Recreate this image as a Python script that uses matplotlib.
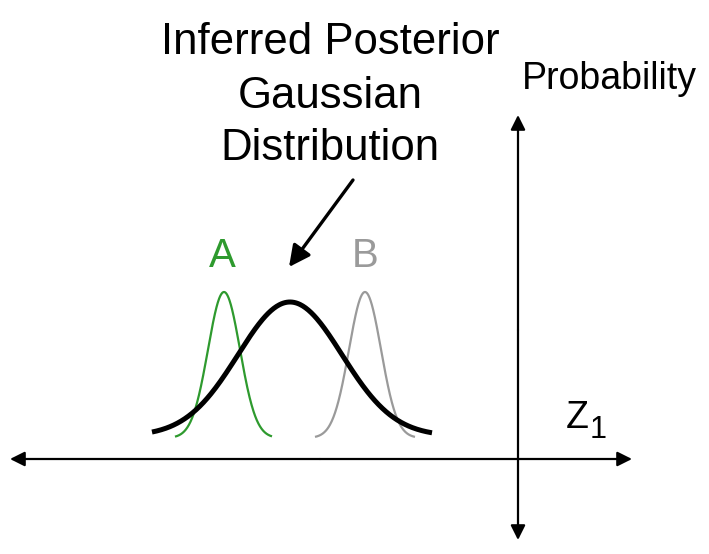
import numpy as np
import matplotlib
matplotlib.use("Agg")
import matplotlib.pyplot as plt

# Curve parameters (in diagram units: x to the right, y downward like the picture)
curve_names = ["A", "B", "Posterior"]
curve_means = [224, 365, 290]
curve_sigmas = [16, 16, 52]
curve_heights = [146, 146, 134]
curve_baselines = [438, 438, 436]
curve_ranges = [(175, 272), (315, 415), (152, 432)]
curve_colors = ["#2e9a2e", "#9a9a9a", "#000000"]
curve_widths = [1.6, 1.6, 3.6]

W, H = 709, 554
fig = plt.figure(figsize=(W / 100, H / 100), dpi=100)
ax = fig.add_axes([0, 0, 1, 1])
ax.set_xlim(0, W)
ax.set_ylim(H, 0)
ax.axis("off")

for m, s, h, b, (x0, x1), c, lw in zip(curve_means, curve_sigmas, curve_heights,
                                         curve_baselines, curve_ranges, curve_colors, curve_widths):
    x = np.linspace(x0, x1, 300)
    y = b - h * np.exp(-0.5 * ((x - m) / s) ** 2)
    ax.plot(x, y, color=c, lw=lw, solid_capstyle="butt")

ap = dict(arrowstyle="-|>", color="black", lw=1.6, mutation_scale=22, shrinkA=0, shrinkB=0)
# horizontal axis (double arrow)
ax.annotate("", xy=(632, 459), xytext=(320, 459), arrowprops=ap)
ax.annotate("", xy=(10, 459), xytext=(320, 459), arrowprops=ap)
# vertical axis
ax.annotate("", xy=(518, 115), xytext=(518, 330), arrowprops=ap)
ax.annotate("", xy=(518, 540), xytext=(518, 330), arrowprops=ap)
# pointer arrow
ax.annotate("", xy=(289, 267), xytext=(353, 180),
            arrowprops=dict(arrowstyle="-|>", color="black", lw=2.4, mutation_scale=32,
                            shrinkA=0, shrinkB=0))

font = "Liberation Sans"
ax.text(330, 42, "Inferred Posterior", ha="center", va="center", fontsize=31.5, family=font)
ax.text(330, 96, "Gaussian", ha="center", va="center", fontsize=31.5, family=font)
ax.text(330, 148, "Distribution", ha="center", va="center", fontsize=31.5, family=font)
ax.text(609, 79, "Probability", ha="center", va="center", fontsize=27, family=font)
ax.text(222, 256, "A", ha="center", va="center", fontsize=29, family=font, color="#2e9a2e")
ax.text(365, 256, "B", ha="center", va="center", fontsize=29, family=font, color="#9a9a9a")
ax.text(566, 418, "Z", ha="left", va="center", fontsize=27, family=font)
ax.text(590, 430, "1", ha="left", va="center", fontsize=22, family=font)

fig.savefig("out.png", dpi=100)
